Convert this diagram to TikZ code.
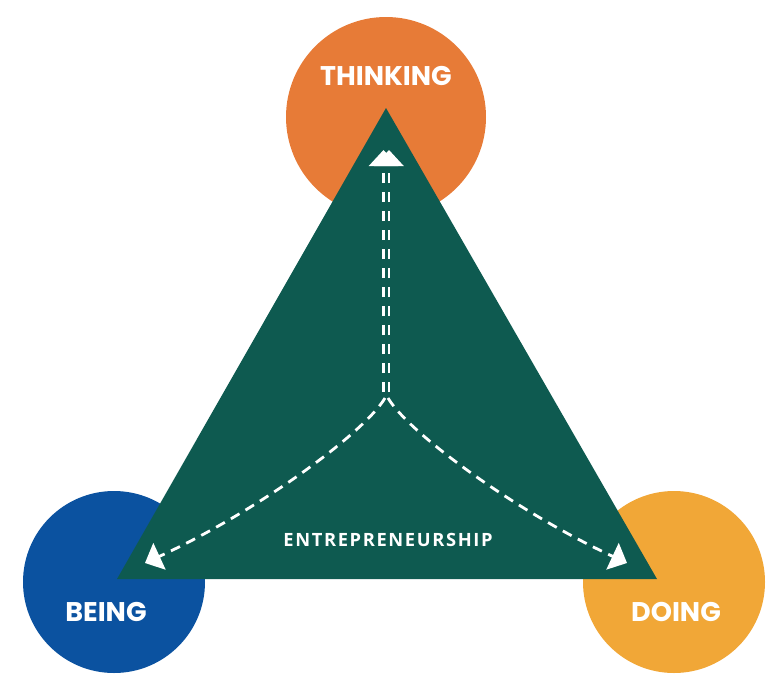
\documentclass[tikz,border=0pt]{standalone}
\usepackage{fontspec}
\usetikzlibrary{arrows.meta}
\newfontfamily\labelfont{Poppins}
\newfontfamily\entfont[LetterSpace=9]{Open Sans}
\definecolor{thinkc}{HTML}{E77B37}
\definecolor{beingc}{HTML}{0B52A0}
\definecolor{doingc}{HTML}{F1A737}
\definecolor{tric}{HTML}{0E5A50}
\begin{document}
\begin{tikzpicture}[x=1pt,y=-1pt,
  circ/.style={circle,inner sep=0pt},
  lbl/.style={text=white,font=\labelfont\bfseries\fontsize{27}{30}\selectfont,inner sep=0pt},
  dline/.style={white,line width=2.8pt,dash pattern=on 10pt off 7pt,
    -{Triangle[width=29pt,length=16pt]}},
  vline/.style={white,line width=2.4pt,dash pattern=on 10pt off 9pt,
    -{Triangle[width=29pt,length=16pt]}}]
\useasboundingbox (0,0) rectangle (774,678);
\node[circ,fill=thinkc,minimum size=200pt] (think) at (386,117) {};
\node[circ,fill=beingc,minimum size=182pt] (being) at (114,582) {};
\node[circ,fill=doingc,minimum size=182pt] (doing) at (674,582) {};
\coordinate (apex) at (386,108);
\coordinate (bl) at (117,579);
\coordinate (br) at (657,579);
\fill[tric] (apex) -- (bl) -- (br) -- cycle;
\node[lbl] (tlab) at (386,76) {THINKING};
\node[lbl] (blab) at (106,612) {BEING};
\node[lbl] (dlab) at (676,612) {DOING};
\node[text=white,font=\entfont\bfseries\fontsize{18.3}{21}\selectfont,inner sep=0pt] (ent) at (388,540) {ENTREPRENEURSHIP};
\coordinate (cl) at (385,398);
\coordinate (cr) at (388,398);
\coordinate (vl0) at (383.5,392);
\coordinate (vr0) at (389,392);
\coordinate (vl1) at (383.5,150);
\coordinate (vr1) at (389,150);
\coordinate (ltip) at (145,563);
\coordinate (rtip) at (627,563);
\draw[vline] (vl0) -- (vl1);
\draw[vline] (vr0) -- (vr1);
\draw[dline] (cl) .. controls (365,432) and (260,510) .. (ltip);
\draw[dline] (cr) .. controls (408,432) and (513,510) .. (rtip);
\end{tikzpicture}
\end{document}
